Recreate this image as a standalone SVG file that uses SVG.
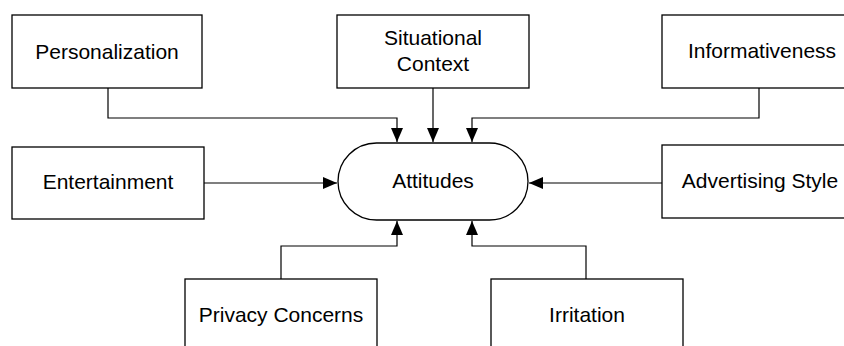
<svg xmlns="http://www.w3.org/2000/svg" width="844" height="346" viewBox="0 0 844 346">
  <style>
    .box { fill: #ffffff; stroke: #000000; stroke-width: 1.3; }
    .label { font-family: "Liberation Sans", Arial, sans-serif; font-size: 21px; fill: #000000; text-anchor: middle; }
    .link { fill: none; stroke: #000000; stroke-width: 1.2; marker-end: url(#arrow); }
  </style>
  <defs>
    <marker id="arrow" markerUnits="userSpaceOnUse" markerWidth="14" markerHeight="12" refX="14" refY="6" orient="auto">
      <path d="M0,0 L14,6 L0,12 Z" fill="#000000"/>
    </marker>
  </defs>

  <rect width="844" height="346" fill="#ffffff"/>

  <!-- connectors -->
  <g id="connectors">
    <path class="link" d="M108,88 V118 H397 V142"/>
    <path class="link" d="M433,88 V142"/>
    <path class="link" d="M759,88 V118 H472 V142"/>
    <path class="link" d="M204,183 H337"/>
    <path class="link" d="M662,183 H529"/>
    <path class="link" d="M281,279 V246 H397 V221"/>
    <path class="link" d="M586,279 V246 H472 V221"/>
  </g>

  <g id="personalization">
    <rect class="box" x="12" y="15" width="190" height="73"/>
    <text class="label" x="107" y="59">Personalization</text>
  </g>

  <g id="situational-context">
    <rect class="box" x="337" y="15" width="192" height="73"/>
    <text class="label" x="433" y="45">Situational</text>
    <text class="label" x="433" y="71">Context</text>
  </g>

  <g id="informativeness">
    <rect class="box" x="662" y="15" width="200" height="73"/>
    <text class="label" x="762" y="58">Informativeness</text>
  </g>

  <g id="entertainment">
    <rect class="box" x="12" y="147" width="192" height="72"/>
    <text class="label" x="108" y="189">Entertainment</text>
  </g>

  <g id="attitudes">
    <rect class="box" x="338" y="143" width="190" height="77" rx="38.5" ry="38.5"/>
    <text class="label" x="433" y="188">Attitudes</text>
  </g>

  <g id="advertising-style">
    <rect class="box" x="662" y="145" width="200" height="73"/>
    <text class="label" x="760" y="188">Advertising Style</text>
  </g>

  <g id="privacy-concerns">
    <rect class="box" x="185" y="279" width="192" height="80"/>
    <text class="label" x="281" y="322">Privacy Concerns</text>
  </g>

  <g id="irritation">
    <rect class="box" x="491" y="279" width="192" height="80"/>
    <text class="label" x="587" y="322">Irritation</text>
  </g>
</svg>
